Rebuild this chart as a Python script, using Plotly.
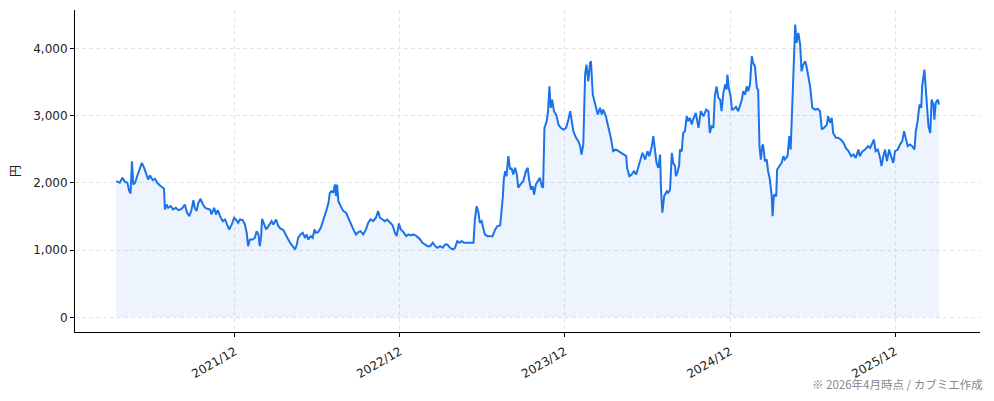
import plotly.graph_objects as go
import pandas as pd

dates = [
 "2021-03-13","2021-03-18","2021-03-21","2021-03-27","2021-04-01","2021-04-07","2021-04-11","2021-04-14","2021-04-17","2021-04-20",
 "2021-04-24","2021-04-29","2021-05-03","2021-05-09","2021-05-14","2021-05-20","2021-05-23","2021-05-27","2021-06-02","2021-06-07",
 "2021-06-12","2021-06-18","2021-06-24","2021-06-27","2021-06-29","2021-07-03","2021-07-06","2021-07-12","2021-07-17","2021-07-23",
 "2021-07-29","2021-08-03","2021-08-07","2021-08-12","2021-08-17","2021-08-22","2021-08-27","2021-08-31","2021-09-03","2021-09-07",
 "2021-09-11","2021-09-16","2021-09-21","2021-09-26","2021-10-01","2021-10-07","2021-10-10","2021-10-16","2021-10-20","2021-10-24",
 "2021-10-29","2021-11-04","2021-11-09","2021-11-14","2021-11-18","2021-11-24","2021-11-29","2021-12-03","2021-12-08","2021-12-12",
 "2021-12-18","2021-12-23","2021-12-27","2021-12-30",
 "2022-01-03","2022-01-09","2022-01-14","2022-01-18","2022-01-22","2022-01-25","2022-01-28","2022-01-30","2022-02-03","2022-02-08",
 "2022-02-13","2022-02-16","2022-02-20","2022-02-24","2022-03-02","2022-03-07","2022-03-12","2022-03-18","2022-03-24","2022-03-29",
 "2022-04-03","2022-04-09","2022-04-13","2022-04-17","2022-04-20","2022-04-25","2022-04-30","2022-05-05","2022-05-09","2022-05-12",
 "2022-05-18","2022-05-22","2022-05-26","2022-05-29","2022-06-03","2022-06-09","2022-06-13","2022-06-18","2022-06-22","2022-06-26",
 "2022-06-29","2022-07-03","2022-07-07","2022-07-10","2022-07-13","2022-07-15","2022-07-18","2022-07-23","2022-07-29","2022-08-04",
 "2022-08-09","2022-08-14","2022-08-20","2022-08-26","2022-08-31","2022-09-05","2022-09-11","2022-09-17","2022-09-22","2022-09-27",
 "2022-10-03","2022-10-09","2022-10-14","2022-10-18","2022-10-24","2022-10-29","2022-11-03","2022-11-09","2022-11-15","2022-11-20",
 "2022-11-24","2022-11-29","2022-12-03","2022-12-09","2022-12-15","2022-12-20","2022-12-25","2022-12-31",
 "2023-01-07","2023-01-15","2023-01-20","2023-01-26","2023-01-31","2023-02-06","2023-02-12","2023-02-17","2023-02-22","2023-02-28",
 "2023-03-06","2023-03-11","2023-03-16","2023-03-22","2023-03-28","2023-04-02","2023-04-07","2023-04-12","2023-04-17","2023-04-22",
 "2023-04-28","2023-05-04","2023-05-09","2023-05-13","2023-05-16","2023-05-20","2023-05-24","2023-05-27","2023-05-31","2023-06-04",
 "2023-06-07","2023-06-13","2023-06-19","2023-06-24","2023-06-30","2023-07-05","2023-07-11","2023-07-14","2023-07-17","2023-07-19",
 "2023-07-22","2023-07-25","2023-07-29","2023-08-02","2023-08-05","2023-08-09","2023-08-13","2023-08-17","2023-08-20","2023-08-25",
 "2023-08-31","2023-09-06","2023-09-10","2023-09-13","2023-09-17","2023-09-21","2023-09-24","2023-09-28","2023-10-03","2023-10-07",
 "2023-10-11","2023-10-14","2023-10-17","2023-10-22","2023-10-25","2023-10-28","2023-10-31","2023-11-03","2023-11-07","2023-11-12",
 "2023-11-17","2023-11-22","2023-11-28","2023-12-04","2023-12-09","2023-12-13","2023-12-16","2023-12-20","2023-12-26","2023-12-31",
 "2024-01-04","2024-01-07","2024-01-11","2024-01-13","2024-01-15","2024-01-18","2024-01-22","2024-01-26","2024-01-28","2024-02-01",
 "2024-02-06","2024-02-12","2024-02-17","2024-02-21","2024-02-24","2024-03-01","2024-03-06","2024-03-12","2024-03-17","2024-03-23",
 "2024-03-29","2024-04-03","2024-04-09","2024-04-15","2024-04-17","2024-04-22","2024-04-27","2024-05-02","2024-05-07","2024-05-12",
 "2024-05-17","2024-05-21","2024-05-27","2024-06-01","2024-06-05","2024-06-10","2024-06-14","2024-06-18","2024-06-21","2024-06-25",
 "2024-06-29","2024-07-01","2024-07-04","2024-07-08","2024-07-14","2024-07-17","2024-07-21","2024-07-25","2024-07-28","2024-08-01",
 "2024-08-03","2024-08-06","2024-08-10","2024-08-12","2024-08-16","2024-08-19","2024-08-23","2024-08-27","2024-08-30","2024-09-03",
 "2024-09-07","2024-09-10","2024-09-16","2024-09-22","2024-09-27","2024-10-03","2024-10-09","2024-10-14","2024-10-17","2024-10-21",
 "2024-10-25","2024-10-28","2024-11-01","2024-11-05","2024-11-09","2024-11-12","2024-11-16","2024-11-20","2024-11-23","2024-11-25",
 "2024-11-28","2024-12-02","2024-12-05","2024-12-08","2024-12-14","2024-12-19","2024-12-23","2024-12-27","2024-12-30",
 "2025-01-03","2025-01-07","2025-01-10","2025-01-14","2025-01-18","2025-01-21","2025-01-25","2025-01-29","2025-02-01","2025-02-04",
 "2025-02-07","2025-02-10","2025-02-12","2025-02-16","2025-02-20","2025-02-23","2025-02-27","2025-03-03","2025-03-05","2025-03-08",
 "2025-03-13","2025-03-15","2025-03-20","2025-03-25","2025-03-29","2025-04-01","2025-04-07","2025-04-11","2025-04-14","2025-04-18",
 "2025-04-21","2025-04-24","2025-04-27","2025-05-01","2025-05-05","2025-05-08","2025-05-12","2025-05-16","2025-05-19","2025-05-23",
 "2025-05-27","2025-06-01","2025-06-07","2025-06-13","2025-06-18","2025-06-22","2025-06-27","2025-07-03","2025-07-06","2025-07-10",
 "2025-07-14","2025-07-17","2025-07-23","2025-07-28","2025-08-03","2025-08-09","2025-08-14","2025-08-20","2025-08-26","2025-08-31",
 "2025-09-05","2025-09-11","2025-09-14","2025-09-20","2025-09-26","2025-10-02","2025-10-07","2025-10-12","2025-10-15","2025-10-19",
 "2025-10-24","2025-10-29","2025-11-01","2025-11-05","2025-11-09","2025-11-13","2025-11-18","2025-11-22","2025-11-27","2025-12-01",
 "2025-12-07","2025-12-12","2025-12-17","2025-12-21","2025-12-25","2025-12-29",
 "2026-01-03","2026-01-08","2026-01-13","2026-01-16","2026-01-20","2026-01-24","2026-01-28","2026-01-30","2026-02-04","2026-02-07",
 "2026-02-09","2026-02-13","2026-02-17","2026-02-20","2026-02-24","2026-02-26","2026-03-01","2026-03-06","2026-03-08",
]

prices = [
 2027,2018,2003,2077,2018,2003,1878,1844,2324,1978,
 2003,2112,2176,2300,2226,2101,2052,2112,2042,2062,
 2003,1963,1929,1914,1606,1680,1631,1655,1606,1631,
 1596,1606,1631,1680,1557,1507,1606,1745,1631,1581,
 1705,1765,1680,1631,1616,1606,1532,1631,1532,1596,
 1507,1432,1457,1383,1309,1383,1483,1457,1408,1457,
 1447,1383,1260,1060,
 1160,1160,1185,1283,1234,1060,1209,1468,1408,1309,
 1358,1383,1432,1383,1457,1358,1319,1299,1234,1160,
 1100,1036,1011,1085,1185,1234,1259,1185,1234,1160,
 1209,1185,1309,1259,1269,1334,1408,1532,1606,1705,
 1854,1878,1854,1978,1804,1978,1730,1655,1581,1557,
 1483,1383,1309,1234,1269,1283,1234,1309,1408,1457,
 1432,1483,1581,1483,1457,1432,1457,1408,1370,1260,
 1209,1398,1309,1269,1209,1234,1219,1234,
 1209,1160,1110,1085,1060,1060,1110,1060,1036,1060,
 1036,1085,1085,1036,1011,1036,1135,1110,1135,1110,
 1110,1120,1110,1110,1457,1655,1557,1408,1432,1309,
 1234,1209,1209,1209,1309,1358,1368,1557,1804,2052,
 2176,2101,2399,2201,2226,2127,2226,2127,1929,1978,
 2027,2176,2226,2052,1903,1953,1829,1978,2027,2077,
 1953,1929,2821,2920,3068,3439,3118,3241,3068,3018,
 2870,2821,2796,2821,2944,3068,2944,2771,2672,2623,
 2548,2424,2573,2994,3613,3762,3514,3786,3811,3316,
 3192,3018,3118,3018,3093,2994,2845,2672,2474,2498,
 2474,2449,2424,2399,2226,2101,2127,2176,2127,2251,
 2349,2449,2349,2474,2399,2523,2697,2498,2300,2226,
 2424,1903,1557,1804,1878,1854,1900,2449,2300,2251,
 2101,2152,2251,2498,2474,2746,2771,2994,2920,2969,
 2870,2944,3044,2821,3068,2994,3093,3068,2746,2845,
 2821,3291,3439,3267,3241,3068,3341,3465,3390,3613,
 3415,3291,3093,3093,3133,3068,3167,3241,3365,
 3316,3439,3365,3465,3886,3786,3737,3415,3390,2548,
 2349,2548,2573,2325,2349,2176,2052,1804,1507,1829,
 1804,2201,2251,2300,2399,2349,2399,2697,2498,3291,
 3836,4357,4085,4234,4060,3663,3762,3811,3737,3564,
 3439,3118,3093,3103,3068,2796,2821,2870,2994,2895,
 2969,2746,2672,2672,2647,2598,2523,2474,2399,2424,
 2374,2498,2399,2474,2498,2548,2523,2598,2647,2474,
 2498,2374,2251,2399,2498,2325,2498,2399,2300,2474,
 2498,2573,2623,2771,2647,2548,
 2573,2548,2498,2771,2920,3167,3118,3439,3688,3390,
 3192,2845,2746,3241,3167,2944,3192,3241,3167,
]

tick_dates = ["2021-12-01", "2022-12-01", "2023-12-01", "2024-12-01", "2025-12-01"]
tick_labels = ["2021/12", "2022/12", "2023/12", "2024/12", "2025/12"]
y_ticks = [0, 1000, 2000, 3000, 4000]
y_tick_labels = ["0", "1,000", "2,000", "3,000", "4,000"]
note_text = "※ 2026年4月時点 / カブミエ作成"
y_title = "円"

x = pd.to_datetime(dates)
span = x.max() - x.min()
x_range = [x.min() - span * 0.05, x.max() + span * 0.05]
ymax = max(prices)
y_range = [-ymax * 0.05, ymax * 1.05]

FONT = "DejaVu Sans, Noto Sans CJK JP, sans-serif"
CJK = "Noto Sans CJK JP, sans-serif"
LINE = "#1a73e8"
GRID = "#e3e3e3"

fig = go.Figure()
fig.add_trace(go.Scatter(
    x=x, y=prices, mode="lines",
    line=dict(color=LINE, width=2),
    fill="tozeroy", fillcolor="rgba(26,115,232,0.08)",
    hoverinfo="skip", showlegend=False,
))

fig.update_layout(
    width=994, height=401,
    margin=dict(l=75, r=14, t=10, b=69, autoexpand=False),
    paper_bgcolor="white", plot_bgcolor="white",
    font=dict(family=FONT, size=12, color="#222"),
    showlegend=False,
    annotations=[dict(
        text=note_text, xref="paper", yref="paper",
        x=1.0055, y=-0.162, xanchor="right", yanchor="middle",
        showarrow=False, font=dict(family=CJK, size=11.5, color="#888"),
    )],
)
fig.update_xaxes(
    range=x_range, tickvals=pd.to_datetime(tick_dates), ticktext=tick_labels,
    tickangle=-30, ticks="outside", ticklen=4, tickcolor="black",
    showline=True, linecolor="black", linewidth=1, mirror=False,
    showgrid=True, gridcolor=GRID, griddash="4px,3px", gridwidth=1,
    zeroline=False, tickfont=dict(family=FONT, size=12, color="#222"),
    ticklabelstandoff=3,
    automargin=False,
)
fig.update_yaxes(
    range=y_range, tickvals=y_ticks, ticktext=y_tick_labels,
    ticks="outside", ticklen=4, tickcolor="black",
    showline=True, linecolor="black", linewidth=1, mirror=False,
    showgrid=True, gridcolor=GRID, griddash="4px,3px", gridwidth=1,
    zeroline=False, tickfont=dict(family=FONT, size=12, color="#222"),
    title=dict(text=y_title, font=dict(family=CJK, size=12, color="#222"), standoff=10),
    automargin=False,
)

fig.write_html(
    "out.html",
    config={"displayModeBar": False},
    post_script="document.body.style.margin='0';document.body.style.overflow='hidden';",
)
